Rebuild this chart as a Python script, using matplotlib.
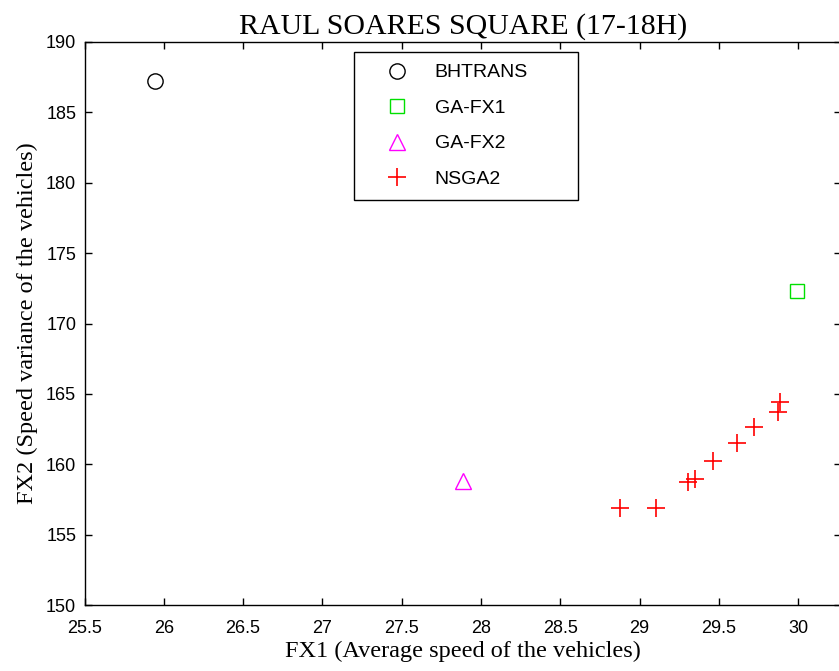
import matplotlib
matplotlib.use("Agg")
import matplotlib.pyplot as plt

# data
bhtrans_x = [25.944]
bhtrans_y = [187.23]
gafx1_x = [29.99]
gafx1_y = [172.30]
gafx2_x = [27.887]
gafx2_y = [158.80]
nsga2_x = [28.876, 29.101, 29.307, 29.349, 29.465, 29.616, 29.721, 29.875, 29.885]
nsga2_y = [156.86, 156.86, 158.71, 158.94, 160.22, 161.50, 162.66, 163.70, 164.39]

x_ticks = [25.5, 26, 26.5, 27, 27.5, 28, 28.5, 29, 29.5, 30]
y_ticks = [150, 155, 160, 165, 170, 175, 180, 185, 190]

W, H = 839, 671
fig = plt.figure(figsize=(W / 100, H / 100), dpi=100)
ax = fig.add_axes([84.5 / W, 1 - 605 / H, (841 - 84.5) / W, (605 - 42) / H])

ax.plot(bhtrans_x, bhtrans_y, "o", mfc="none", mec="black", ms=11, mew=1, label="BHTRANS")
ax.plot(gafx1_x, gafx1_y, "s", mfc="none", mec="#00e000", ms=10, mew=1, label="GA-FX1")
ax.plot(gafx2_x, gafx2_y, "^", mfc="none", mec="magenta", ms=12, mew=1, label="GA-FX2")
ax.plot(nsga2_x, nsga2_y, "+", color="red", ms=13, mew=1.2, label="NSGA2")

ax.set_xlim(25.5, 30.27)
ax.set_ylim(150, 190)
ax.set_xticks(x_ticks)
ax.set_xticklabels([f"{t:g}" for t in x_ticks])
ax.set_yticks(y_ticks)
ax.tick_params(direction="in", top=True, right=True, length=5, width=1)
ax.tick_params(axis="x", pad=10.5)
ax.tick_params(axis="y", pad=6)
for lbl in ax.get_xticklabels() + ax.get_yticklabels():
    lbl.set_family(["Liberation Sans", "DejaVu Sans"])
    lbl.set_fontsize(13)
for s in ax.spines.values():
    s.set_linewidth(1)

serif = ["Liberation Serif", "DejaVu Serif"]
ax.set_title("RAUL SOARES SQUARE (17-18H)", family=serif, fontsize=21.5, pad=6)
ax.set_xlabel("FX1 (Average speed of the vehicles)", family=serif, fontsize=17.5, labelpad=3)
ax.set_ylabel("FX2 (Speed variance of the vehicles)", family=serif, fontsize=17.5, labelpad=6)

leg = ax.legend(loc="upper left", bbox_to_anchor=(0.356, 0.5, 0.297, 0.482),
                mode="expand", borderaxespad=0,
                fancybox=False, edgecolor="black", framealpha=1,
                prop={"family": ["Liberation Sans", "DejaVu Sans"], "size": 14},
                labelspacing=0.92, handlelength=3.2, handletextpad=0.35,
                borderpad=0.6, numpoints=1)
leg.get_frame().set_linewidth(1)

fig.savefig("out.png", dpi=100)
